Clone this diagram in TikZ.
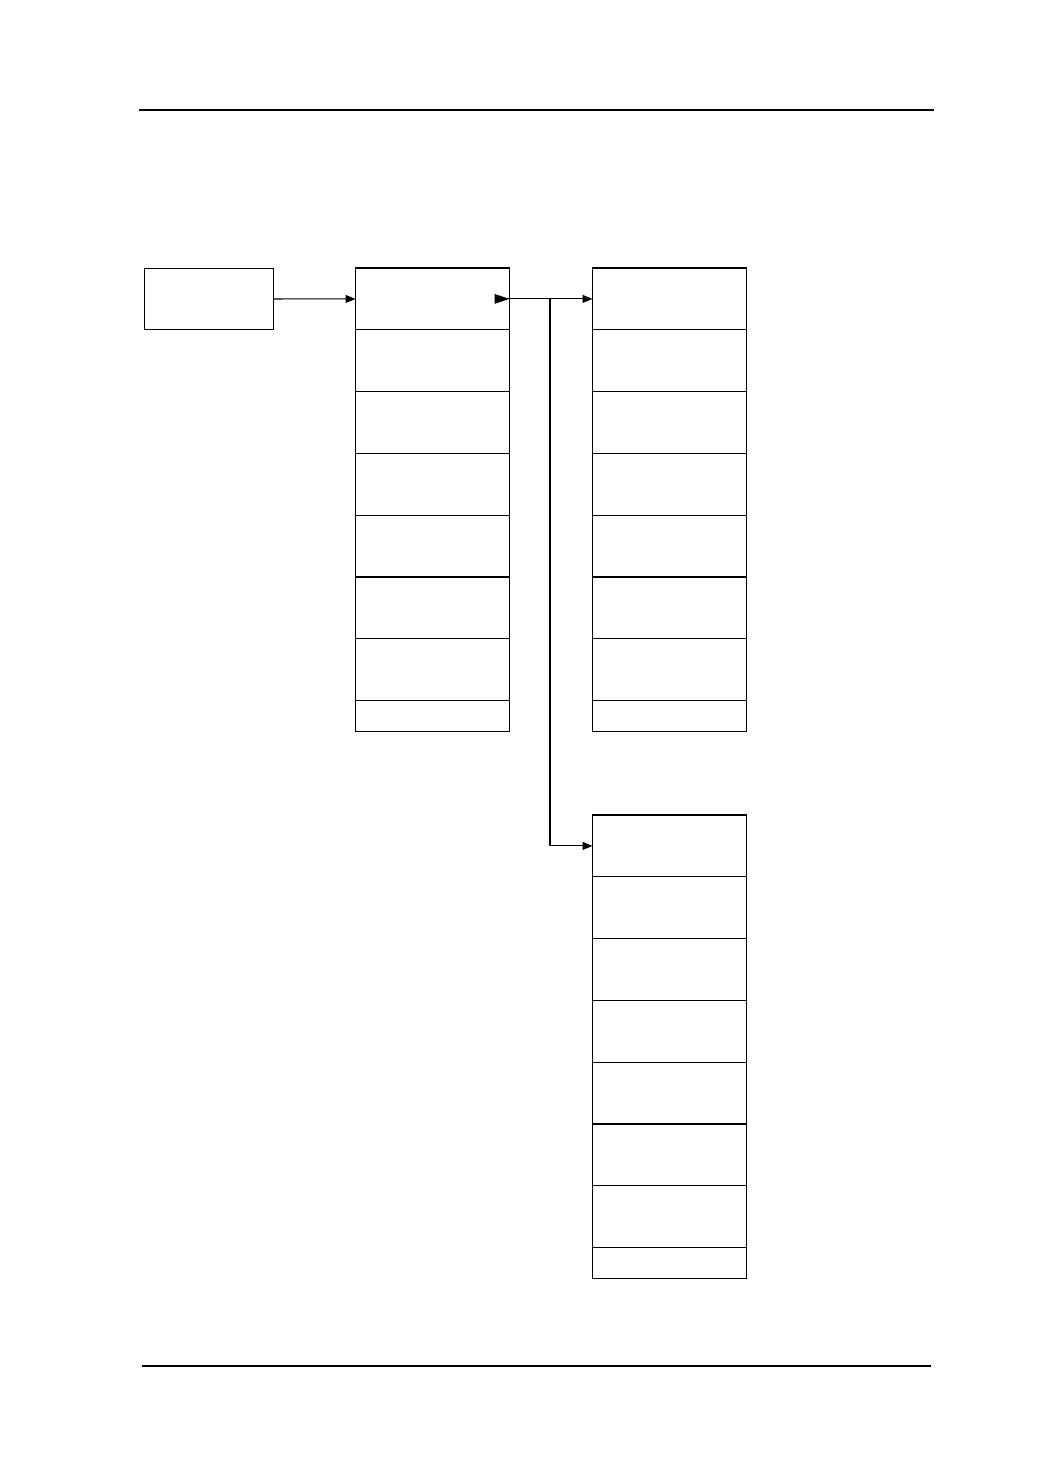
\documentclass[tikz,border=0pt]{standalone}
\usetikzlibrary{arrows.meta}
\tikzset{
  cell/.style={draw, line width=0.6pt, minimum width=31mm, minimum height=12.45mm, inner sep=0pt, outer sep=0pt},
  endcell/.style={cell, minimum height=6.25mm},
  link/.style={line width=0.6pt, -{Triangle[length=5.7pt,width=4.5pt]}},
  bighead/.style={line width=0.6pt, -{Triangle[length=8.5pt,width=5.5pt]}},
}
\begin{document}
\begin{tikzpicture}[x=0.020134cm, y=-0.020149cm]
  \useasboundingbox (0,0) rectangle (1043,1474);

  % header and footer rules
  \draw[line width=1.15pt] (139,110) -- (934,110);
  \draw[line width=1.15pt] (142,1366) -- (931,1366);

  \node[cell, minimum width=25.8mm] (src) at (209,299) {};

  \foreach \i in {1,...,7} {
    \node[cell] (m\i) at (432.5, {268+61.8*(\i-0.5)}) {};
    \node[cell] (r\i) at (669.5, {268+61.8*(\i-0.5)}) {};
    \node[cell] (b\i) at (669.5, {815+61.8*(\i-0.5)}) {};
  }
  \node[endcell] (m8) at (432.5, 716.1) {};
  \node[endcell] (r8) at (669.5, 716.1) {};
  \node[endcell] (b8) at (669.5, 1263.1) {};

  \coordinate (m1in) at ([xshift=-0.2pt]m1.east);
  \coordinate (fork) at (550,299);

  \draw[link] (src) -- (m1);
  \draw[bighead] (m1in) -- (m1.east);
  \draw[link] (m1.east) -- (r1.west);
  \draw[link] (fork) |- (b1.west);

\end{tikzpicture}
\end{document}
